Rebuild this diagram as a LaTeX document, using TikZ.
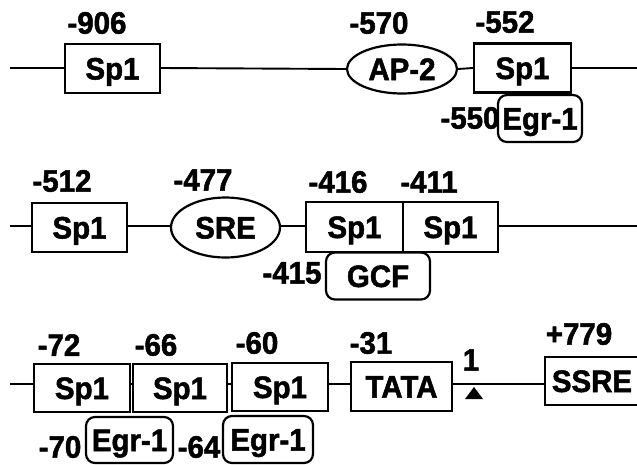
\documentclass[tikz,border=0pt]{standalone}
\usepackage{fontspec}
\setmainfont{Liberation Sans}[BoldFeatures={FakeStretch=0.95,FakeBold=1.6}]
\usetikzlibrary{shapes.geometric}
\newcommand\diagfont{\fontsize{31}{33}\selectfont\bfseries}
\tikzset{
  sitebox/.style={draw, line width=2.2pt, rectangle, inner sep=0pt, minimum height=49pt,
    text height=22pt, text depth=0pt, font=\diagfont},
  siteoval/.style={draw, line width=2.2pt, ellipse, inner sep=0pt,
    text height=22pt, text depth=0pt, font=\diagfont},
  egrbox/.style={draw, line width=2.2pt, rectangle, rounded corners=9pt, inner sep=0pt,
    minimum height=47pt, text height=22pt, text depth=0pt, font=\diagfont},
  poslab/.style={inner sep=0pt, font=\diagfont},
  dna/.style={line width=1.9pt}
}
\begin{document}
\begin{tikzpicture}[x=1pt,y=-1pt]
\useasboundingbox (0,0) rectangle (637,464);
\clip (0,0) rectangle (637,464);

% ---------- Row 1 ----------
\coordinate (r1s) at (10,68);
\coordinate (r1e) at (637,68);
\node[sitebox, minimum width=95pt] (sp1a) at (112.5,68.5) {Sp1};
\node[siteoval, minimum width=110pt, minimum height=49pt] (ap2) at (402,69) {AP-2};
\node[sitebox, minimum width=97pt] (sp1b) at (522.5,68) {Sp1};
\node[egrbox, minimum width=84pt] (egr1a) at (540,118.5) {Egr-1};
\node[poslab] (l906) at (97,23) {-906};
\node[poslab] (l570) at (379,23) {-570};
\node[poslab] (l552) at (505,22) {-552};
\node[poslab] (l550) at (470,118) {-550};
\draw[dna] (r1s) -- (sp1a.west |- r1s);
\draw[dna] (sp1a.east |- r1s) -- (ap2.west);
\draw[dna] (ap2.east) -- (sp1b.west |- r1s);
\draw[dna] (sp1b.east |- r1s) -- (r1e);

% ---------- Row 2 ----------
\coordinate (r2s) at (10,226);
\coordinate (r2e) at (637,226);
\node[sitebox, minimum width=95pt] (sp1c) at (79.5,227.5) {Sp1};
\node[siteoval, minimum width=109pt, minimum height=60pt] (sre) at (225.5,227.5) {SRE};
\node[sitebox, minimum width=97pt, minimum height=50pt] (sp1d) at (354.5,227) {Sp1};
\node[sitebox, minimum width=95pt, minimum height=50pt] (sp1e) at (450.5,227) {Sp1};
\node[egrbox, minimum width=104pt] (gcf) at (378,276) {GCF};
\node[poslab] (l512) at (62,181) {-512};
\node[poslab] (l477) at (203,180) {-477};
\node[poslab] (l416) at (338,182) {-416};
\node[poslab] (l411) at (429,182) {-411};
\node[poslab] (l415) at (292,273) {-415};
\draw[dna] (r2s) -- (sp1c.west |- r2s);
\draw[dna] (sp1c.east |- r2s) -- (sre.west |- r2s);
\draw[dna] (sre.east |- r2s) -- (sp1d.west |- r2s);
\draw[dna] (sp1e.east |- r2s) -- (r2e);

% ---------- Row 3 ----------
\coordinate (r3s) at (10,384);
\node[sitebox, minimum width=96pt, minimum height=48pt] (sp1f) at (82,388) {Sp1};
\node[sitebox, minimum width=94pt, minimum height=48pt] (sp1g) at (180,388) {Sp1};
\node[sitebox, minimum width=96pt, minimum height=48pt] (sp1h) at (280,387) {Sp1};
\node[sitebox, minimum width=101pt, minimum height=49pt] (tata) at (401.5,386.5) {TATA};
\node[sitebox, minimum width=94pt, minimum height=48pt] (ssre) at (592,381) {SSRE};
\node[egrbox, minimum width=87pt, minimum height=46pt] (egr1b) at (129.5,440) {Egr-1};
\node[egrbox, minimum width=90pt, minimum height=47pt] (egr1c) at (268,439.5) {Egr-1};
\node[poslab] (l72) at (59,345) {-72};
\node[poslab] (l66) at (156,345) {-66};
\node[poslab] (l60) at (257,343) {-60};
\node[poslab] (l31) at (371,343) {-31};
\node[poslab] (l1) at (471,360) {1};
\node[poslab] (l779) at (579,334) {+779};
\node[poslab] (l70) at (60,447) {-70};
\node[poslab] (l64) at (199,447) {-64};
\draw[dna] (r3s) -- (sp1f.west |- r3s);
\draw[dna] (sp1f.east |- r3s) -- (sp1g.west |- r3s);
\draw[dna] (sp1g.east |- r3s) -- (sp1h.west |- r3s);
\draw[dna] (sp1h.east |- r3s) -- (tata.west |- r3s);
\draw[dna] (tata.east |- r3s) -- (ssre.west |- r3s);
\fill (465,399) -- (483,399) -- (474,387) -- cycle;
\end{tikzpicture}
\end{document}
